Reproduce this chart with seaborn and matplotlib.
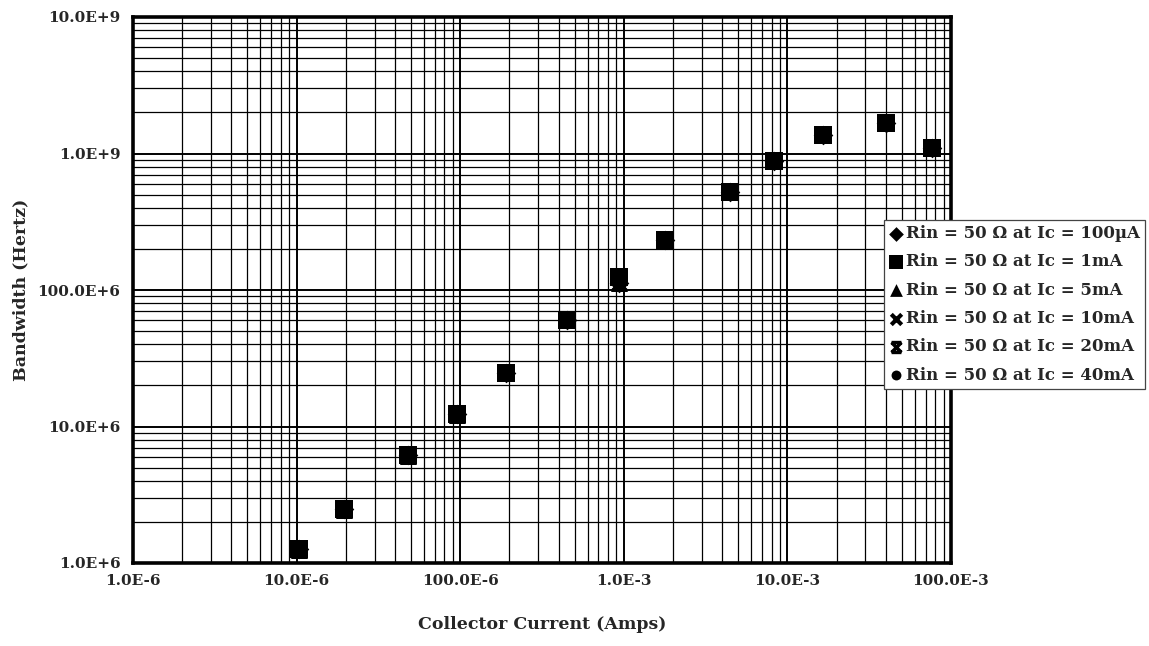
import numpy as np
import pandas as pd
import matplotlib
matplotlib.use("Agg")
import matplotlib.pyplot as plt
from matplotlib.path import Path
from matplotlib.ticker import FixedLocator, LogLocator, NullFormatter
import seaborn as sns

# Collector current sweep (A)
current = [1.03e-5, 1.96e-5, 4.8e-5, 9.6e-5, 1.9e-4, 4.5e-4, 9.3e-4,
           1.78e-3, 4.46e-3, 8.3e-3, 1.66e-2, 4.03e-2, 7.6e-2]

# Measured bandwidth (Hz) for each bias condition
bw_100uA = [1.26e6, 2.48e6, 6.2e6, 12.3e6, 24.5e6, 60e6, 112e6,
            231e6, 518e6, 887e6, 1.37e9, 1.66e9, 1.10e9]
bw_1mA = [1.26e6, 2.48e6, 6.2e6, 12.3e6, 24.5e6, 60e6, 124e6,
          231e6, 518e6, 887e6, 1.37e9, 1.66e9, 1.10e9]
bw_5mA = [1.24e6, 2.46e6, 6.1e6, 12.1e6, 24.5e6, 60e6, 112e6,
          231e6, 518e6, 887e6, 1.37e9, 1.66e9, 1.10e9]
bw_10mA = [1.26e6, 2.48e6, 6.2e6, 12.3e6, 24.5e6, 60e6, 124e6,
           231e6, 518e6, 887e6, 1.37e9, 1.66e9, 1.10e9]
bw_20mA = [1.26e6, 2.48e6, 6.2e6, 12.3e6, 24.5e6, 60e6, 112e6,
           231e6, 518e6, 887e6, 1.37e9, 1.66e9, 1.10e9]
bw_40mA = [1.28e6, 2.48e6, 6.2e6, 12.3e6, 24.5e6, 60e6, 118e6,
           231e6, 518e6, 887e6, 1.37e9, 1.66e9, 1.10e9]

series_labels = ["Rin = 50 Ω at Ic = 100µA", "Rin = 50 Ω at Ic = 1mA",
                 "Rin = 50 Ω at Ic = 5mA", "Rin = 50 Ω at Ic = 10mA",
                 "Rin = 50 Ω at Ic = 20mA", "Rin = 50 Ω at Ic = 40mA"]
series_values = [bw_100uA, bw_1mA, bw_5mA, bw_10mA, bw_20mA, bw_40mA]

x_ticks = [1e-6, 1e-5, 1e-4, 1e-3, 1e-2, 1e-1]
x_tick_labels = ["1.0E-6", "10.0E-6", "100.0E-6", "1.0E-3", "10.0E-3", "100.0E-3"]
y_ticks = [1e6, 1e7, 1e8, 1e9, 1e10]
y_tick_labels = ["1.0E+6", "10.0E+6", "100.0E+6", "1.0E+9", "10.0E+9"]

# hourglass-style star: an X closed by top and bottom bars
star_path = Path(
    [(-1, -1), (1, 1), (-1, 1), (1, -1), (-1, 1), (1, 1), (-1, -1), (1, -1)],
    [Path.MOVETO, Path.LINETO, Path.MOVETO, Path.LINETO,
     Path.MOVETO, Path.LINETO, Path.MOVETO, Path.LINETO])

marker_specs = [
    dict(marker="D", s=100, linewidth=0),
    dict(marker="s", s=160, linewidth=0),
    dict(marker="^", s=150, linewidth=0),
    dict(marker="x", s=100, linewidth=3),
    dict(marker=star_path, s=90, linewidth=2.5),
    dict(marker="o", s=90, linewidth=0),
]

sns.set_theme(style="white")
plt.rcParams["font.family"] = ["DejaVu Serif", "DejaVu Sans"]
plt.rcParams["font.weight"] = "bold"

fig = plt.figure(figsize=(11.49, 6.46), dpi=100)
ax = fig.add_axes([133 / 1149, 1 - 563 / 646, (951 - 133) / 1149, (563 - 17) / 646])

for label, values, spec in zip(series_labels, series_values, marker_specs):
    df = pd.DataFrame({"current": current, "bandwidth": values})
    sns.scatterplot(data=df, x="current", y="bandwidth", color="black",
                    edgecolor="black", label=label, legend=False, ax=ax,
                    zorder=3, **spec)

ax.set_xscale("log")
ax.set_yscale("log")
ax.set_xlim(1e-6, 1e-1)
ax.set_ylim(1e6, 1e10)

ax.xaxis.set_major_locator(FixedLocator(x_ticks))
ax.set_xticklabels(x_tick_labels)
ax.yaxis.set_major_locator(FixedLocator(y_ticks))
ax.set_yticklabels(y_tick_labels)
for axis in (ax.xaxis, ax.yaxis):
    axis.set_minor_locator(LogLocator(base=10, subs=np.arange(2, 10)))
    axis.set_minor_formatter(NullFormatter())

ax.set_axisbelow(True)
ax.grid(which="major", color="black", linewidth=1.4)
ax.grid(which="minor", color="black", linewidth=0.9)

ax.tick_params(which="major", direction="out", length=4, width=1.2,
               color="black", labelsize=11)
ax.tick_params(which="minor", length=0)
ax.tick_params(axis="x", pad=4)
ax.tick_params(axis="y", pad=5)
for lab in ax.get_xticklabels() + ax.get_yticklabels():
    lab.set_fontweight("bold")

for spine in ax.spines.values():
    spine.set_visible(True)
    spine.set_color("black")
    spine.set_linewidth(2.6)

ax.set_xlabel("Collector Current (Amps)", fontsize=12.5, fontweight="bold", labelpad=20)
ax.set_ylabel("Bandwidth (Hertz)", fontsize=12.5, fontweight="bold", labelpad=6)

handles, labels = ax.get_legend_handles_labels()
leg = fig.legend(handles, labels, loc="upper left",
                 bbox_to_anchor=(884 / 1149, 1 - 220 / 646),
                 frameon=True, fancybox=False, framealpha=1, edgecolor="#444444",
                 fontsize=12, markerscale=0.75, handlelength=0.8,
                 handletextpad=0.2, labelspacing=0.68, borderpad=0.3,
                 borderaxespad=0)
leg.get_frame().set_linewidth(0.9)
for t in leg.get_texts():
    t.set_fontweight("bold")

fig.savefig("out.png", dpi=100)
